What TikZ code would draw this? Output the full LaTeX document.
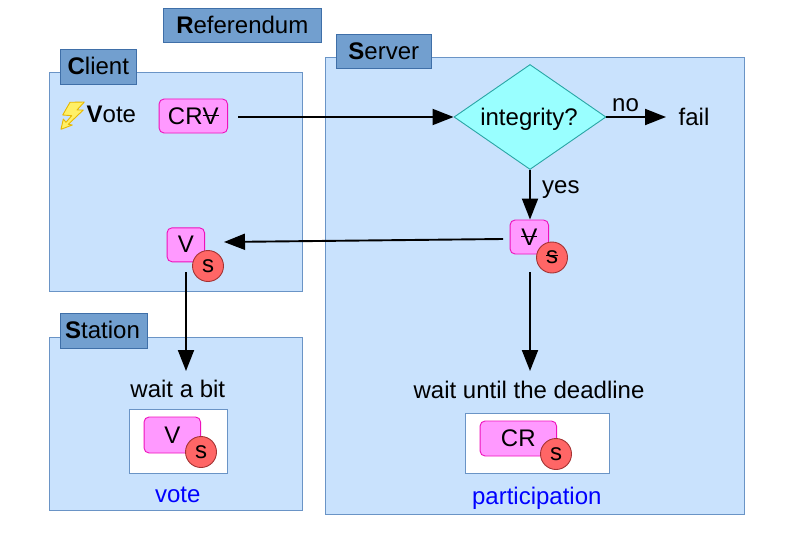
\documentclass[tikz,border=0pt]{standalone}
\usepackage{fontspec}
\setmainfont{Liberation Sans}
\usetikzlibrary{arrows.meta,shapes.geometric}
\definecolor{panel}{HTML}{C9E2FD}
\definecolor{panelline}{HTML}{6A94C6}
\definecolor{tagfill}{HTML}{729FCF}
\definecolor{tagline}{HTML}{3F6FA8}
\definecolor{pinkfill}{HTML}{FF99FF}
\definecolor{pinkline}{HTML}{EE11BB}
\definecolor{sealfill}{HTML}{FF6666}
\definecolor{sealline}{HTML}{A33333}
\definecolor{diamondfill}{HTML}{99FFFF}
\definecolor{diamondline}{HTML}{2AA5A5}
\definecolor{boltfill}{HTML}{FFF066}
\definecolor{boltline}{HTML}{E8B800}
\newcommand{\strk}[1]{\setbox0\hbox{#1}\rlap{\raise 0.34em\hbox to \wd0{\leaders\hrule height 0.7pt\hfill}}\box0}
\tikzset{
  every node/.style={font=\fontsize{24}{28}\selectfont, inner sep=0pt, text=black},
  panelbox/.style={draw=panelline, fill=panel, line width=0.9pt, minimum width=#1},
  tagbox/.style={draw=tagline, fill=tagfill, line width=0.9pt},
  pinkbox/.style={draw=pinkline, fill=pinkfill, line width=0.9pt, rounded corners=5pt},
  seal/.style={circle, draw=sealline, fill=sealfill, line width=0.9pt, minimum size=31pt},
  whitebox/.style={draw=panelline, fill=white, line width=0.9pt},
  conn/.style={draw=black, line width=1.9pt, -{Triangle[length=21pt,width=16pt]}},
  bluetext/.style={text=blue}
}
\begin{document}
\begin{tikzpicture}[x=1pt,y=-1pt]
\useasboundingbox (0,0) rectangle (794,559);
% panels
\node[panelbox=252.5pt, minimum height=219pt] (client) at (176,181.5) {};
\node[panelbox=419.6pt, minimum height=457pt] (server) at (534.8,285.5) {};
\node[panelbox=252.5pt, minimum height=173pt] (station) at (176,423.5) {};
% tags
\node[tagbox, minimum width=158.5pt, minimum height=34pt] (reftag) at (242.3,25) {\textbf{R}eferendum};
\node[tagbox, minimum width=76.5pt, minimum height=35pt, text depth=1.5pt] (clienttag) at (98.3,66.5) {\textbf{C}lient};
\node[tagbox, minimum width=95.5pt, minimum height=34pt] (servertag) at (383.8,51) {\textbf{S}erver};
\node[tagbox, minimum width=87.5pt, minimum height=35pt, text depth=1.5pt] (stationtag) at (103.8,330.5) {\hspace{-2.5pt}\textbf{S}tation};
% bolt
\draw[draw=boltline, fill=boltfill, line width=0.9pt, line join=round]
  (70,102.3) -- (84.3,102) -- (77,110) -- (83.3,110) -- (68.3,124.3) -- (72.3,125) -- (61,129.3) -- (63.3,119) -- (66,122.3) -- (71.7,115.7) -- (62.7,115) -- cycle;
\node[anchor=base west] (vote) at (86.5,122) {\textbf{V}ote};
% client
\node[pinkbox, minimum width=68.5pt, minimum height=34pt] (crv) at (193.3,116) {CR\strk{V}};
\node[pinkbox, minimum width=37.5pt, minimum height=34pt, text depth=1.5pt] (vclient) at (185.8,244.8) {V};
\node[seal] (sclient) at (208,266) {s};
% server
\node[diamond, draw=diamondline, fill=diamondfill, line width=0.9pt, minimum width=152pt, minimum height=105pt, aspect=1.45] (check) at (530,117) {};
\node[anchor=base] (integrity) at (529,125) {integrity?};
\node[anchor=base west] (fail) at (678.5,125) {fail};
\node[anchor=base west] (no) at (612,112) {no};
\node[anchor=base west] (yes) at (542,193) {yes};
\node[pinkbox, minimum width=38.5pt, minimum height=34pt] (vserver) at (529.3,237) {\strk{V}};
\node[seal] (sserver) at (552,257.5) {\strk{s}};
\node[anchor=base] (deadline) at (529,398) {wait until the deadline};
\node[whitebox, minimum width=144pt, minimum height=60pt] (partbox) at (537,443) {};
\node[pinkbox, minimum width=76.5pt, minimum height=35pt] (crbox) at (518.3,438.5) {CR};
\node[seal] (scr) at (556,454) {s};
\node[anchor=base, bluetext] (participation) at (536.8,504) {participation};
% station
\node[anchor=base] (waitbit) at (177.8,397) {wait a bit};
\node[whitebox, minimum width=98pt, minimum height=64pt] (votebox) at (178,441) {};
\node[pinkbox, minimum width=56.5pt, minimum height=36pt] (vbox) at (172.3,435) {V};
\node[seal] (sv) at (201,452) {s};
\node[anchor=base, bluetext] (votelabel) at (177.8,502) {vote};
% connectors
\coordinate (crvout) at (238,117);
\draw[conn] (crvout) -- (crvout -| check.west);
\draw[conn] (check.east) -- (666,117);
\draw[conn] (check.south) -- (check.south |- vserver.north);
\coordinate (vserverleft) at (503,239);
\coordinate (vclientright) at (224,242);
\draw[conn] (vserverleft) -- (vclientright);
\coordinate (vserverdown) at (530,272);
\draw[conn] (vserverdown) -- (530,371);
\coordinate (vclientdown) at (186,272);
\draw[conn] (vclientdown) -- (186,371);
\end{tikzpicture}
\end{document}
